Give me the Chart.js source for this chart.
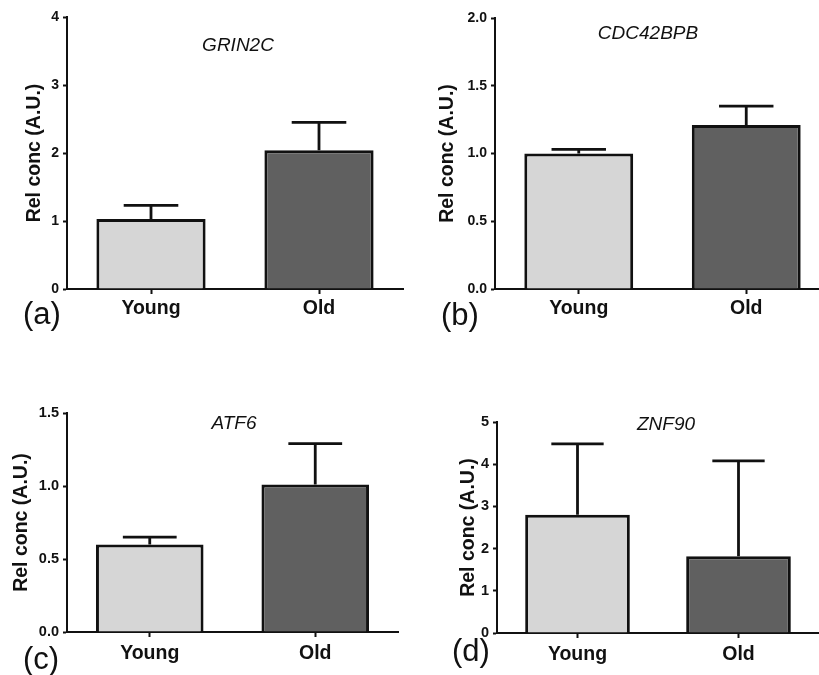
<!DOCTYPE html>
<html>
<head>
<meta charset="utf-8">
<script src="https://cdn.jsdelivr.net/npm/chart.js@4.4.0/dist/chart.umd.min.js"></script>
<style>
  html, body { margin: 0; padding: 0; background: #fff; overflow: hidden; width: 819px; height: 675px; }
  canvas { position: absolute; }
</style>
</head>
<body>
<canvas id="panelA" width="410" height="340" style="left:0;top:0"></canvas>
<canvas id="panelB" width="420" height="340" style="left:410px;top:0"></canvas>
<canvas id="panelC" width="410" height="295" style="left:0;top:380px"></canvas>
<canvas id="panelD" width="409" height="295" style="left:410px;top:380px"></canvas>
<script>
// groups and genes
const groups = ['Young', 'Old'];
const genes = ['GRIN2C', 'CDC42BPB', 'ATF6', 'ZNF90'];
const panelTags = ['(a)', '(b)', '(c)', '(d)'];

// mean values (Young, Old) per gene
const grin2cMean = [1.03, 2.04];
const cdc42bpbMean = [1.00, 1.21];
const atf6Mean = [0.60, 1.01];
const znf90Mean = [2.80, 1.82];

// upper error (SEM) per gene
const grin2cErr = [0.20, 0.41];
const cdc42bpbErr = [0.03, 0.14];
const atf6Err = [0.05, 0.28];
const znf90Err = [1.68, 2.26];

// y axis ticks
const axisMax = [4, 2, 1.5, 5];
const axisStep = [1, 0.5, 0.5, 1];
const tickDigits = [0, 1, 1, 0];

const means = [grin2cMean, cdc42bpbMean, atf6Mean, znf90Mean];
const errs = [grin2cErr, cdc42bpbErr, atf6Err, znf90Err];

const FONT = '"Liberation Sans", Arial, sans-serif';
const INK = '#111';

// layout of each panel (pixels inside its canvas)
const panels = [
    { id: 'panelA', yWidth: 67, xHeight: 51, padTop: 17, padRight: 7, titlePad: 23, tickPad: 3, tickSize: 14, gene: [238, 51], tag: [23, 324] },
    { id: 'panelB', yWidth: 85, xHeight: 51, padTop: 18, padRight: 0, titlePad: 26, tickPad: 3, tickSize: 14, gene: [238, 39], tag: [31, 325] },
    { id: 'panelC', yWidth: 67, xHeight: 43, padTop: 33, padRight: 12, titlePad: 10, tickPad: 5, tickSize: 14.5, gene: [234, 49], tag: [23, 289] },
    { id: 'panelD', yWidth: 87, xHeight: 42, padTop: 42, padRight: 0, titlePad: 47, tickPad: 5, tickSize: 14.5, gene: [256, 50], tag: [42, 281] },
];

const errorBars = {
    id: 'errorBars',
    afterDatasetsDraw(chart, args, opts) {
        const ctx = chart.ctx;
        const y = chart.scales.y;
        const values = chart.data.datasets[0].data;
        ctx.save();
        ctx.strokeStyle = INK;
        ctx.lineWidth = 2.8;
        chart.getDatasetMeta(0).data.forEach((bar, i) => {
            const top = y.getPixelForValue(values[i] + opts.err[i]);
            const half = bar.width * 0.25;
            ctx.beginPath();
            ctx.moveTo(bar.x, bar.y);
            ctx.lineTo(bar.x, top);
            ctx.moveTo(bar.x - half, top);
            ctx.lineTo(bar.x + half, top);
            ctx.stroke();
        });
        ctx.restore();
    }
};

const panelText = {
    id: 'panelText',
    afterDraw(chart, args, opts) {
        const ctx = chart.ctx;
        ctx.save();
        ctx.fillStyle = INK;
        ctx.textBaseline = 'alphabetic';
        ctx.font = 'italic 19px ' + FONT;
        ctx.textAlign = 'center';
        ctx.fillText(opts.gene, opts.genePos[0], opts.genePos[1]);
        ctx.font = '31px ' + FONT;
        ctx.textAlign = 'left';
        ctx.fillText(opts.tag, opts.tagPos[0], opts.tagPos[1]);
        ctx.restore();
    }
};

panels.forEach((p, k) => {
    new Chart(document.getElementById(p.id), {
        type: 'bar',
        data: {
            labels: groups,
            datasets: [{
                data: means[k],
                backgroundColor: ['#d6d6d6', '#606060'],
                borderColor: INK,
                borderWidth: 3,
                categoryPercentage: 1,
                barPercentage: 0.65
            }]
        },
        options: {
            responsive: false,
            animation: false,
            layout: { padding: { top: p.padTop, right: p.padRight, left: 0, bottom: 0 } },
            plugins: {
                legend: { display: false },
                title: { display: false },
                tooltip: { enabled: false },
                errorBars: { err: errs[k] },
                panelText: { gene: genes[k], genePos: p.gene, tag: panelTags[k], tagPos: p.tag }
            },
            scales: {
                x: {
                    afterFit: s => { s.height = p.xHeight; },
                    grid: { offset: false, drawOnChartArea: false, tickLength: 5, tickWidth: 2, tickColor: INK },
                    border: { color: INK, width: 2 },
                    ticks: { color: INK, padding: p.tickPad, font: { family: FONT, size: 19.5, weight: 'bold' }, maxRotation: 0, autoSkip: false }
                },
                y: {
                    min: 0,
                    max: axisMax[k],
                    afterFit: s => { s.width = p.yWidth; },
                    grid: { drawOnChartArea: false, tickLength: 4, tickWidth: 2, tickColor: INK },
                    border: { color: INK, width: 2 },
                    ticks: {
                        stepSize: axisStep[k],
                        color: INK,
                        padding: 4,
                        font: { family: FONT, size: p.tickSize, weight: 'bold' },
                        callback: v => Number(v).toFixed(tickDigits[k])
                    },
                    title: {
                        display: true,
                        text: 'Rel conc (A.U.)',
                        color: INK,
                        padding: { top: p.titlePad, bottom: 0 },
                        font: { family: FONT, size: 19.5, weight: 'bold' }
                    }
                }
            }
        },
        plugins: [errorBars, panelText]
    });
});
</script>
</body>
</html>
